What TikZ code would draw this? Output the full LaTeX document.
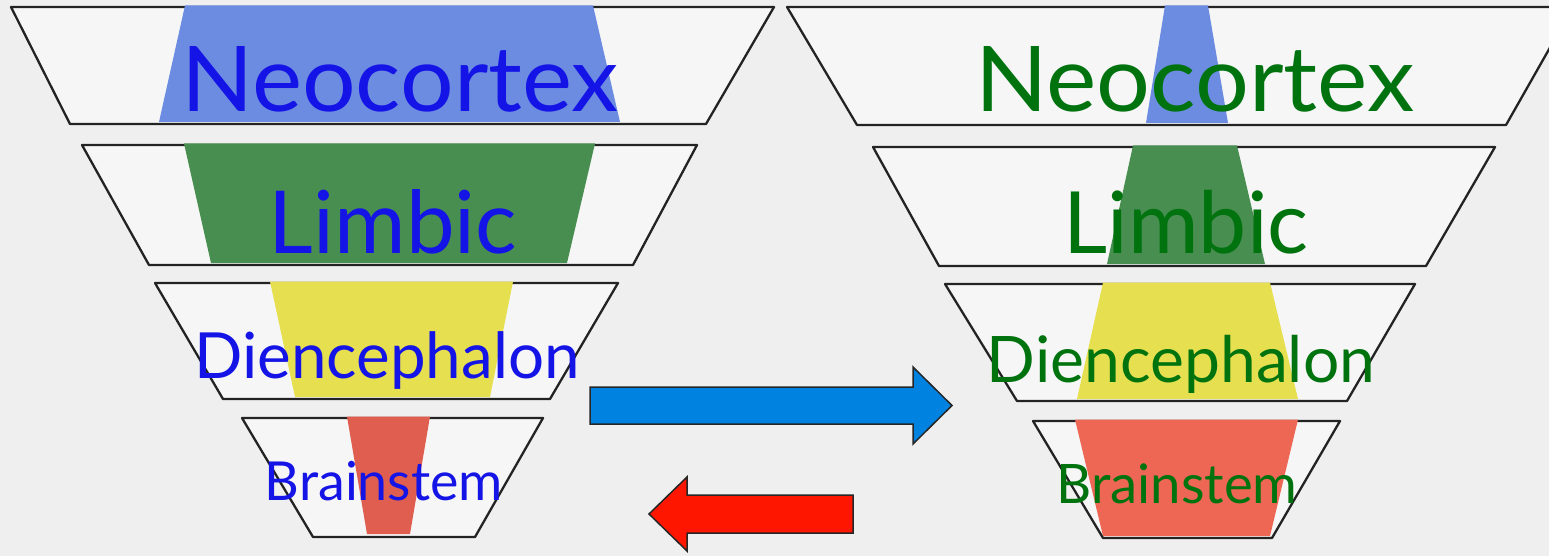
\documentclass[tikz,border=0pt]{standalone}
\usepackage{fontspec}
\setmainfont{Lato}
\usepackage{graphicx}
\definecolor{bg}{RGB}{239,239,239}
\definecolor{tz}{RGB}{246,246,246}
\definecolor{edge}{RGB}{35,35,35}
\definecolor{fneo}{RGB}{108,140,226}
\definecolor{flim}{RGB}{72,142,80}
\definecolor{fdie}{RGB}{230,224,80}
\definecolor{fbrl}{RGB}{224,94,80}
\definecolor{fbrr}{RGB}{238,102,84}
\definecolor{ltext}{RGB}{20,20,230}
\definecolor{rtext}{RGB}{0,115,15}
\definecolor{barrow}{RGB}{0,130,225}
\definecolor{rarrow}{RGB}{255,22,0}
\tikzset{
  tzbox/.style={fill=tz, draw=edge, line width=2.3pt, line join=round},
  lbl/.style={anchor=base, inner sep=0pt, outer sep=0pt},
  arrowshape/.style={draw=black!85, line width=1.5pt, line join=miter}
}
\begin{document}
\begin{tikzpicture}[x=1pt,y=-1pt]
\useasboundingbox (0,0) rectangle (1549,556);
\fill[bg] (0,0) rectangle (1549,556);
\begin{scope}
\clip (0,0) rectangle (1549,556);
% ---------- left funnel ----------
\draw[tzbox] (11,7) -- (774,7) -- (706,124) -- (70,124) -- cycle;
\fill[fneo] (185,5.5) -- (593,5.5) -- (620,122) -- (159,122) -- cycle;
\draw[tzbox] (82,145) -- (697,145) -- (633,265) -- (149,265) -- cycle;
\fill[flim] (184,143.5) -- (595,143.5) -- (567,263) -- (211,263) -- cycle;
\draw[tzbox] (155,283) -- (618,283) -- (550,399) -- (223,399) -- cycle;
\fill[fdie] (270,281.5) -- (513,281.5) -- (490,397) -- (295,397) -- cycle;
\draw[tzbox] (242,418) -- (543,418) -- (475,537) -- (313,537) -- cycle;
\fill[fbrl] (347,416.5) -- (430,416.5) -- (410,534) -- (367,534) -- cycle;
% ---------- right funnel ----------
\draw[tzbox] (787,7) -- (1573,7) -- (1506,125) -- (857,125) -- cycle;
\fill[fneo] (1165,5.5) -- (1208,5.5) -- (1228,123) -- (1146,123) -- cycle;
\draw[tzbox] (873,147) -- (1495,147) -- (1426,266) -- (939,266) -- cycle;
\fill[flim] (1133,145.5) -- (1237,145.5) -- (1265,264) -- (1107,264) -- cycle;
\draw[tzbox] (945,284) -- (1415,284) -- (1347,401) -- (1017,401) -- cycle;
\fill[fdie] (1103,282.5) -- (1270,282.5) -- (1298,399) -- (1077,399) -- cycle;
\draw[tzbox] (1033,421) -- (1340,421) -- (1272,538) -- (1103,538) -- cycle;
\fill[fbrr] (1075,419.5) -- (1298,419.5) -- (1270,536) -- (1103,536) -- cycle;
\end{scope}
% ---------- labels ----------
\node[lbl, text=ltext] (lneo) at (400,112) {\resizebox{437pt}{65pt}{Neocortex}};
\node[lbl, text=ltext] (llim) at (393,253) {\resizebox{248pt}{!}{Limbic}};
\node[lbl, text=ltext] (ldie) at (387,378) {\resizebox{385pt}{!}{Diencephalon}};
\node[lbl, text=ltext] (lbra) at (384,500) {\resizebox{238pt}{!}{Brainstem}};
\node[lbl, text=rtext] (rneo) at (1195,112) {\resizebox{439pt}{65pt}{Neocortex}};
\node[lbl, text=rtext] (rlim) at (1186,253) {\resizebox{245pt}{!}{Limbic}};
\node[lbl, text=rtext] (rdie) at (1181,382) {\resizebox{388pt}{!}{Diencephalon}};
\node[lbl, text=rtext] (rbra) at (1177,503) {\resizebox{241pt}{!}{Brainstem}};
% ---------- arrows ----------
\filldraw[arrowshape, fill=barrow] (590,387) -- (913,387) -- (913,367) -- (952,405.5) -- (913,444) -- (913,424) -- (590,424) -- cycle;
\filldraw[arrowshape, fill=rarrow] (853,495) -- (687,495) -- (687,477) -- (649,514) -- (687,551) -- (687,533) -- (853,533) -- cycle;
\end{tikzpicture}
\end{document}
